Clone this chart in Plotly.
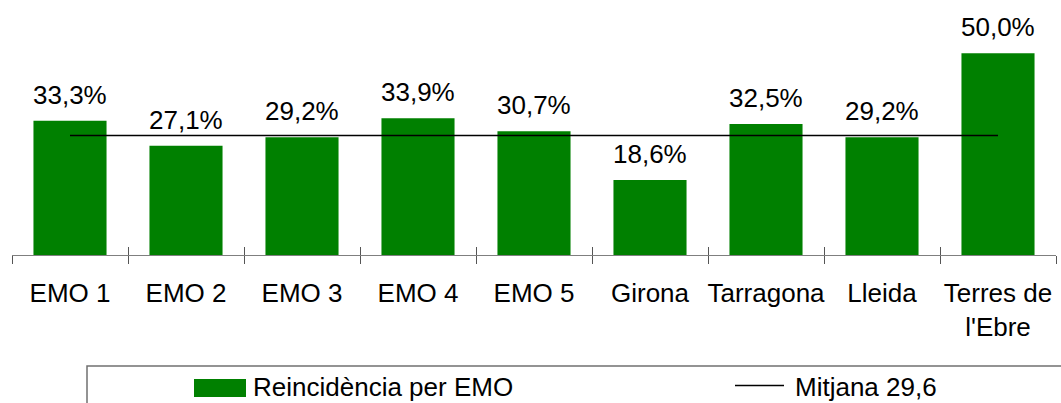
import plotly.graph_objects as go

# ---- data ----
categories = ["EMO 1", "EMO 2", "EMO 3", "EMO 4", "EMO 5", "Girona", "Tarragona", "Lleida", "Terres de<br>l'Ebre"]
reincidencia = [33.3, 27.1, 29.2, 33.9, 30.7, 18.6, 32.5, 29.2, 50.0]
mitjana = 29.6
series_bar_name = "Reincidència per EMO"
series_line_name = "Mitjana 29,6"

# ---- layout constants (pixels) ----
W, H = 1061, 403
ML, MR, MT, MB = 12, 5, 13, 148
FONT = "Liberation Sans, Arial, sans-serif"
GREEN = "#008000"
FS = 26

pw = W - ML - MR
ph = H - MT - MB


def px_x(p):
    return (p - ML) / pw


def px_y(p):
    return (H - MB - p) / ph


def fmt(v):
    return f"{v:.1f}%".replace(".", ",")


fig = go.Figure()
fig.add_trace(go.Bar(
    x=categories, y=reincidencia, name=series_bar_name,
    marker=dict(color=GREEN, line=dict(width=0)),
    showlegend=False,
))
fig.add_trace(go.Scatter(
    x=categories, y=[mitjana] * len(categories), name=series_line_name,
    mode="lines", line=dict(color="black", width=1.5),
    xaxis="x2", showlegend=False,
))

annotations = []
for c, v in zip(categories, reincidencia):
    annotations.append(dict(
        x=c, y=v, xref="x", yref="y", text=fmt(v), showarrow=False,
        yanchor="bottom", yshift=9, font=dict(family=FONT, size=FS, color="black"),
    ))

# custom legend
shapes = [
    dict(type="rect", xref="paper", yref="paper",
         x0=px_x(87), x1=px_x(1075), y0=px_y(366), y1=px_y(420),
         line=dict(color="#707070", width=1.5), fillcolor="rgba(0,0,0,0)", layer="above"),
    dict(type="rect", xref="paper", yref="paper",
         x0=px_x(194), x1=px_x(246), y0=px_y(379), y1=px_y(397),
         line=dict(width=0), fillcolor=GREEN),
    dict(type="line", xref="paper", yref="paper",
         x0=px_x(735), x1=px_x(784), y0=px_y(385.5), y1=px_y(385.5),
         line=dict(color="black", width=1.5)),
]
annotations += [
    dict(x=px_x(251), y=px_y(387), xref="paper", yref="paper", text=series_bar_name,
         showarrow=False, xanchor="left", yanchor="middle",
         font=dict(family=FONT, size=FS, color="black")),
    dict(x=px_x(793), y=px_y(387), xref="paper", yref="paper", text=series_line_name,
         showarrow=False, xanchor="left", yanchor="middle",
         font=dict(family=FONT, size=FS, color="black")),
]

n = len(categories)
fig.update_layout(
    width=W, height=H, autosize=False,
    margin=dict(l=ML, r=MR, t=MT, b=MB, autoexpand=False),
    paper_bgcolor="white", plot_bgcolor="white",
    bargap=0.37,
    font=dict(family=FONT, size=FS, color="black"),
    xaxis=dict(
        type="category", categoryorder="array", categoryarray=categories,
        range=[-0.5, n - 0.5], tickson="boundaries", ticks="outside", ticklen=8,
        tickcolor="#555555", tickwidth=1, showline=True, linecolor="#7f7f7f", linewidth=1,
        showgrid=False, zeroline=False, fixedrange=True, tickangle=0,
        ticklabelstandoff=15,
        tickfont=dict(family=FONT, size=FS, color="black"),
    ),
    xaxis2=dict(
        type="category", categoryorder="array", categoryarray=categories,
        range=[-0.5, n - 0.5], overlaying="x", anchor="y", side="bottom",
        tickson="boundaries", ticks="inside", ticklen=8, tickcolor="#555555", tickwidth=1,
        showticklabels=False, showline=False, showgrid=False, zeroline=False,
    ),
    yaxis=dict(range=[0, 60], visible=False, showgrid=False, zeroline=False, fixedrange=True),
    shapes=shapes,
    annotations=annotations,
)

fig.write_html(
    "out.html",
    config={"displayModeBar": False},
    post_script="document.body.style.margin='0';document.body.style.overflow='hidden';",
)
